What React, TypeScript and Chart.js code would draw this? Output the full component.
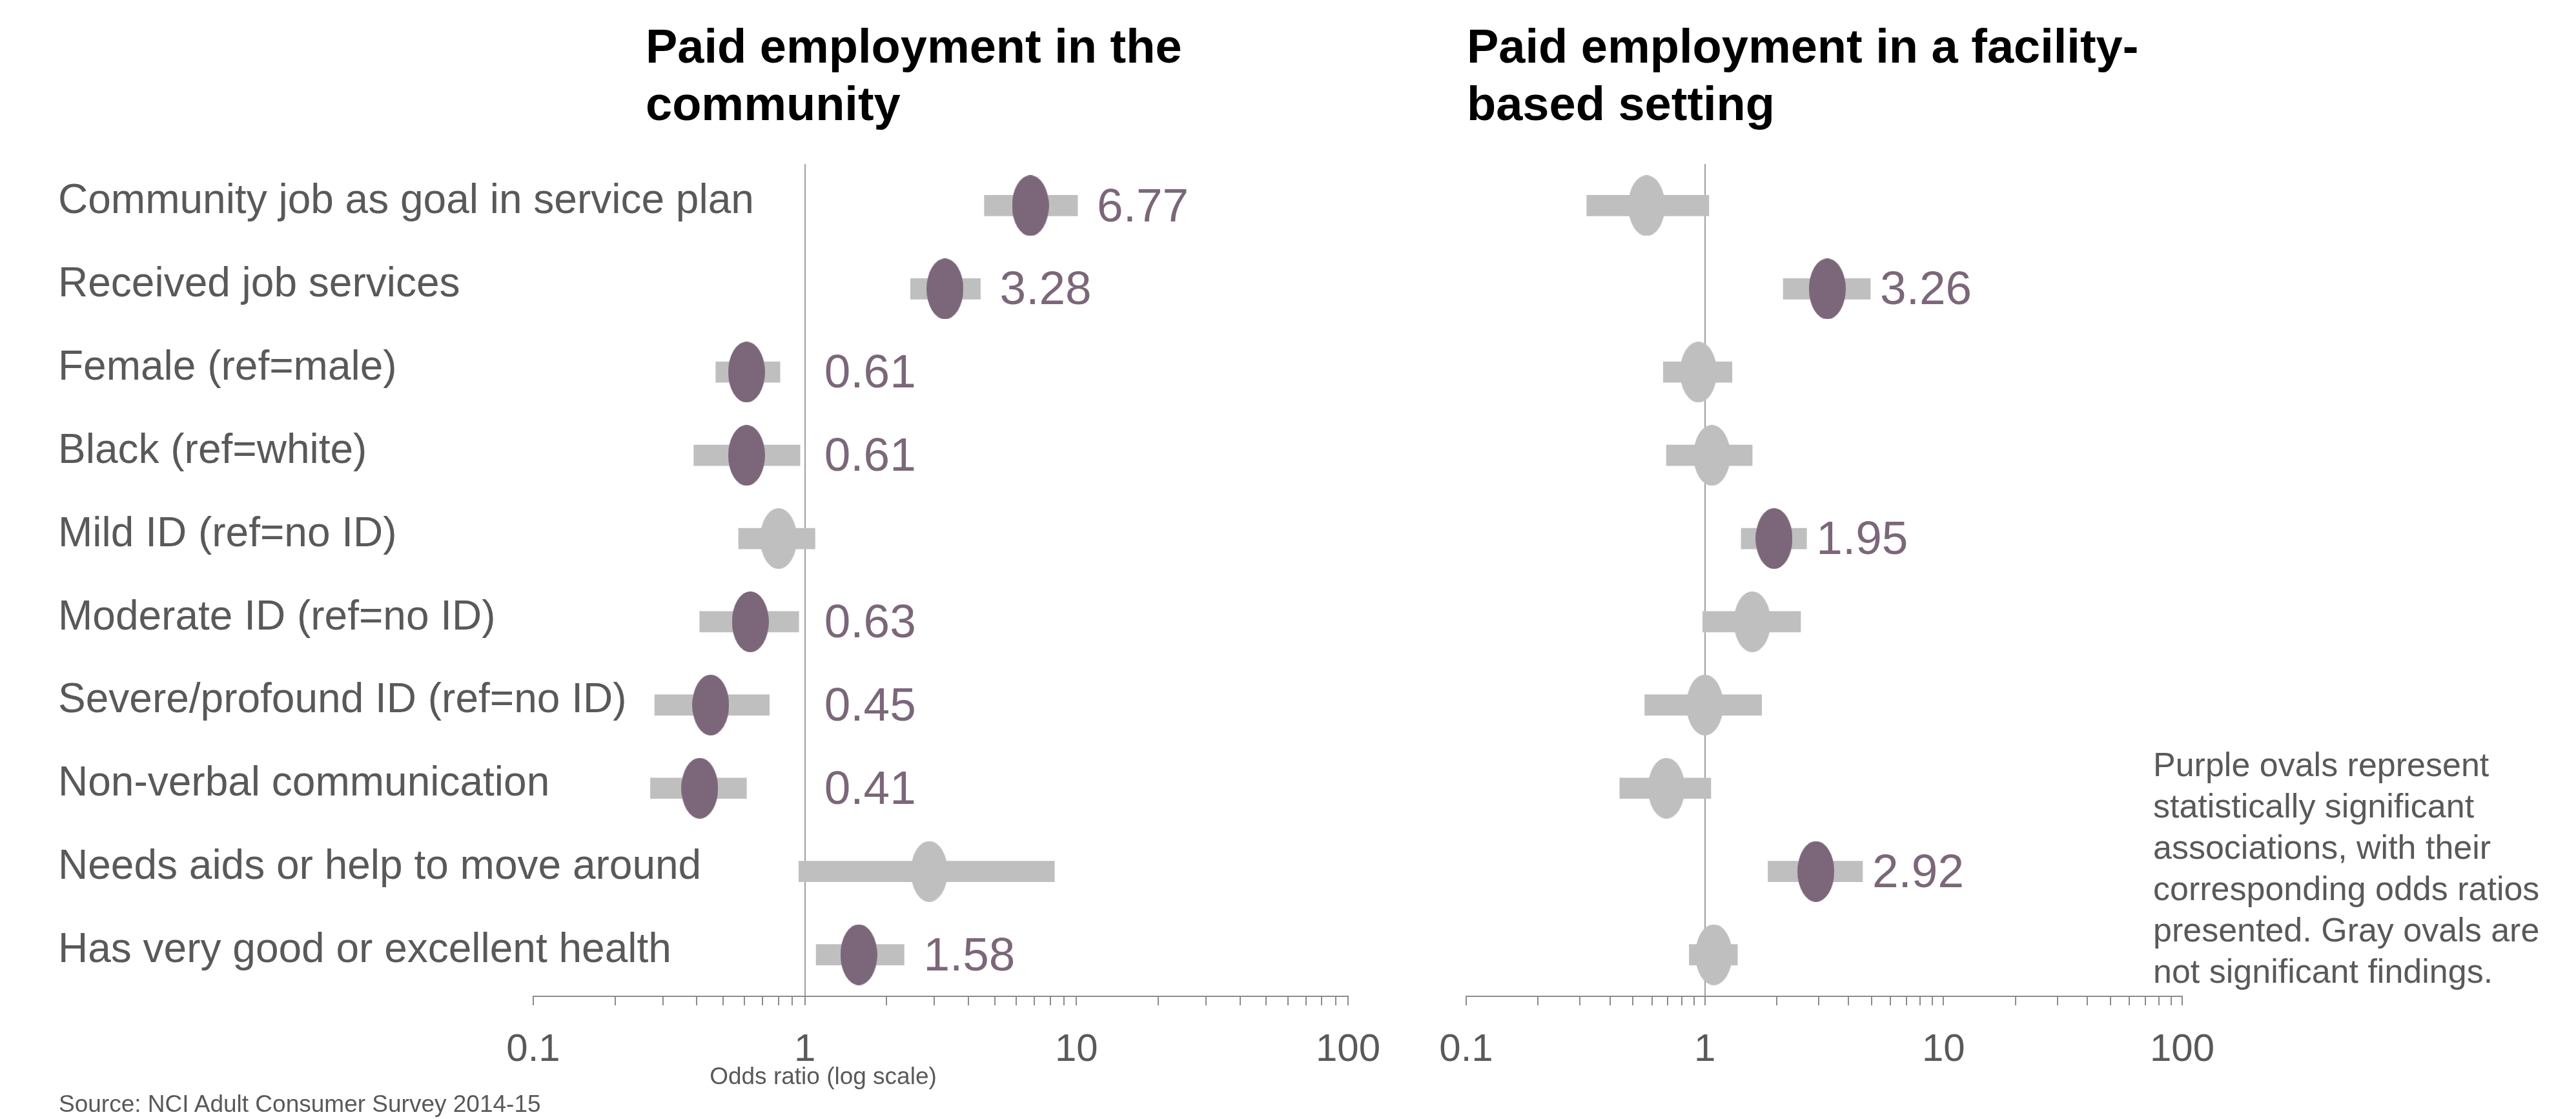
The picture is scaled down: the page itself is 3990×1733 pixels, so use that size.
import React, { useEffect, useRef } from "react";
import { Chart, registerables } from "chart.js";

Chart.register(...registerables);

// ---------- DATA ----------
const CATEGORIES = [
  "Community job as goal in service plan",
  "Received job services",
  "Female (ref=male)",
  "Black (ref=white)",
  "Mild ID (ref=no ID)",
  "Moderate ID (ref=no ID)",
  "Severe/profound ID (ref=no ID)",
  "Non-verbal communication",
  "Needs aids or help to move around",
  "Has very good or excellent health",
];

// Paid employment in the community
const COMMUNITY_OR = [6.77, 3.28, 0.61, 0.61, 0.8, 0.63, 0.45, 0.41, 2.87, 1.58];
const COMMUNITY_LOW = [4.58, 2.45, 0.47, 0.39, 0.57, 0.41, 0.28, 0.27, 0.95, 1.1];
const COMMUNITY_HIGH = [10.1, 4.43, 0.81, 0.96, 1.09, 0.95, 0.74, 0.61, 8.3, 2.32];
const COMMUNITY_SIG = [true, true, true, true, false, true, true, true, false, true];

// Paid employment in a facility-based setting
const FACILITY_OR = [0.57, 3.26, 0.94, 1.07, 1.95, 1.58, 1.0, 0.69, 2.92, 1.09];
const FACILITY_LOW = [0.32, 2.13, 0.67, 0.69, 1.42, 0.98, 0.56, 0.44, 1.84, 0.86];
const FACILITY_HIGH = [1.04, 4.94, 1.3, 1.58, 2.67, 2.52, 1.73, 1.06, 4.58, 1.37];
const FACILITY_SIG = [false, true, false, false, true, false, false, false, true, false];

const TICK_VALUES = [
  0.1, 0.2, 0.3, 0.4, 0.5, 0.6, 0.7, 0.8, 0.9,
  1, 2, 3, 4, 5, 6, 7, 8, 9,
  10, 20, 30, 40, 50, 60, 70, 80, 90,
  100,
];
const MAJOR_TICKS = [0.1, 1, 10, 100];
const MAJOR_TICK_LABELS = ["0.1", "1", "10", "100"];

const TITLE_LEFT = ["Paid employment in the", "community"];
const TITLE_RIGHT = ["Paid employment in a facility-", "based setting"];
const AXIS_TITLE = "Odds ratio (log scale)";
const SOURCE = "Source: NCI Adult Consumer Survey 2014-15";
const NOTE_LINES = [
  "Purple ovals represent",
  "statistically significant",
  "associations, with their",
  "corresponding odds ratios",
  "presented. Gray ovals are",
  "not significant findings.",
];

// ---------- STYLE ----------
const PURPLE = "#7B6779";
const GRAY = "#BFBFBF";
const TEXT = "#595959";
const AXIS = "#8C8C8C";
const FONT = '"Liberation Sans", Arial, Helvetica, sans-serif';
const H = 1733;
const TICK_PAD = 33;
const RIGHT_PAD = 83;

function makeOval(color: string) {
  const c = document.createElement("canvas");
  c.width = 57;
  c.height = 94;
  const g = c.getContext("2d")!;
  g.fillStyle = color;
  g.beginPath();
  g.ellipse(28.5, 47, 28.5, 47, 0, 0, Math.PI * 2);
  g.fill();
  return c;
}

type PanelProps = {
  left: number;
  width: number;
  or: number[];
  low: number[];
  high: number[];
  sig: boolean[];
  showLabels: boolean;
  padLeft: number;
  padRight: number;
  yWidth: number;
  labelGap: number;
};

function ForestPanel(p: PanelProps) {
  const ref = useRef<HTMLCanvasElement>(null);
  useEffect(() => {
    const purpleOval = makeOval(PURPLE);
    const grayOval = makeOval(GRAY);
    const valueLabels = {
      id: "valueLabels",
      afterDatasetsDraw(chart: any) {
        const ctx = chart.ctx;
        const xs = chart.scales.x;
        const ys = chart.scales.y;
        ctx.save();
        ctx.font = `73px ${FONT}`;
        ctx.fillStyle = PURPLE;
        ctx.textAlign = "left";
        ctx.textBaseline = "middle";
        p.or.forEach((v, i) => {
          if (!p.sig[i]) return;
          const x = xs.getPixelForValue(Math.max(p.high[i], 1)) + p.labelGap;
          const y = ys.getPixelForValue(i) + 4;
          ctx.fillText(v.toFixed(2), x, y);
        });
        ctx.restore();
      },
    };
    const chart = new Chart(ref.current!, {
      type: "bar",
      data: {
        labels: CATEGORIES,
        datasets: [
          {
            type: "scatter",
            label: "Odds ratio",
            data: CATEGORIES.map((c, i) => ({ x: p.or[i], y: c })) as any,
            pointStyle: p.sig.map((s) => (s ? purpleOval : grayOval)) as any,
            pointRadius: 30,
            order: 0,
          } as any,
          {
            type: "bar",
            label: "95% CI",
            data: CATEGORIES.map((_, i) => [p.low[i], p.high[i]]) as any,
            backgroundColor: GRAY,
            borderWidth: 0,
            barThickness: 32,
            grouped: false,
            order: 1,
          } as any,
        ],
      },
      options: {
        animation: false,
        responsive: false,
        devicePixelRatio: 1,
        indexAxis: "y",
        layout: { padding: { left: p.padLeft, right: p.padRight, top: 254, bottom: 0 } },
        plugins: {
          legend: { display: false },
          tooltip: { enabled: false },
          title: { display: false },
        },
        scales: {
          x: {
            type: "logarithmic",
            min: 0.1,
            max: 100,
            afterBuildTicks: (s: any) => {
              s.ticks = TICK_VALUES.map((v) => ({ value: v }));
            },
            afterFit: (s: any) => {
              s.height = H - 1543;
            },
            ticks: {
              autoSkip: false,
              maxRotation: 0,
              minRotation: 0,
              padding: TICK_PAD,
              color: TEXT,
              font: { family: FONT, size: 60 },
              callback: (v: any) => {
                const k = MAJOR_TICKS.indexOf(Number(v));
                return k >= 0 ? MAJOR_TICK_LABELS[k] : "";
              },
            },
            grid: {
              drawOnChartArea: true,
              color: (ctx: any) =>
                ctx.tick && ctx.tick.value === 1 ? "#A0A0A0" : "rgba(0,0,0,0)",
              lineWidth: 2,
              tickColor: AXIS,
              tickWidth: 2,
              tickLength: 14,
            },
            border: { display: true, color: AXIS, width: 2 },
          } as any,
          y: {
            type: "category",
            display: p.showLabels,
            offset: true,
            grid: { display: false, drawTicks: false },
            border: { display: false },
            afterFit: (s: any) => {
              s.width = p.yWidth;
            },
            ticks: {
              autoSkip: false,
              mirror: true,
              crossAlign: "near",
              labelOffset: -6,
              padding: -p.yWidth,
              color: TEXT,
              font: { family: FONT, size: 64 },
            },
          } as any,
        },
      },
      plugins: [valueLabels],
    } as any);
    return () => chart.destroy();
  }, []);
  return (
    <canvas
      ref={ref}
      width={p.width}
      height={H}
      style={{ position: "absolute", left: p.left, top: 0, width: p.width, height: H }}
    />
  );
}

const textBase: React.CSSProperties = {
  position: "absolute",
  fontFamily: FONT,
  whiteSpace: "nowrap",
  margin: 0,
};

export default function App() {
  return (
    <div
      style={{
        position: "fixed",
        left: 0,
        top: 0,
        width: 3990,
        height: H,
        background: "#fff",
        overflow: "hidden",
      }}
    >
      <ForestPanel
        left={0}
        width={2088 + RIGHT_PAD}
        or={COMMUNITY_OR}
        low={COMMUNITY_LOW}
        high={COMMUNITY_HIGH}
        sig={COMMUNITY_SIG}
        showLabels={true}
        padLeft={90}
        padRight={RIGHT_PAD}
        yWidth={736}
        labelGap={30}
      />
      <ForestPanel
        left={2150}
        width={3380 - 2150 + RIGHT_PAD}
        or={FACILITY_OR}
        low={FACILITY_LOW}
        high={FACILITY_HIGH}
        sig={FACILITY_SIG}
        showLabels={false}
        padLeft={121}
        padRight={RIGHT_PAD}
        yWidth={0}
        labelGap={15}
      />
      <div style={{ ...textBase, left: 1000, top: 27, fontSize: 74, lineHeight: "89px", fontWeight: 700, color: "#000" }}>
        {TITLE_LEFT.map((t, i) => (
          <div key={i}>{t}</div>
        ))}
      </div>
      <div style={{ ...textBase, left: 2272, top: 27, fontSize: 74, lineHeight: "89px", fontWeight: 700, color: "#000" }}>
        {TITLE_RIGHT.map((t, i) => (
          <div key={i}>{t}</div>
        ))}
      </div>
      <div style={{ ...textBase, left: 1275, top: 1645, fontSize: 37, lineHeight: "44px", color: TEXT, transform: "translateX(-50%)" }}>
        {AXIS_TITLE}
      </div>
      <div style={{ ...textBase, left: 91, top: 1688, fontSize: 37, lineHeight: "44px", color: TEXT }}>
        {SOURCE}
      </div>
      <div style={{ ...textBase, left: 3335, top: 1152, fontSize: 52, lineHeight: "64px", color: TEXT }}>
        {NOTE_LINES.map((t, i) => (
          <div key={i}>{t}</div>
        ))}
      </div>
    </div>
  );
}
